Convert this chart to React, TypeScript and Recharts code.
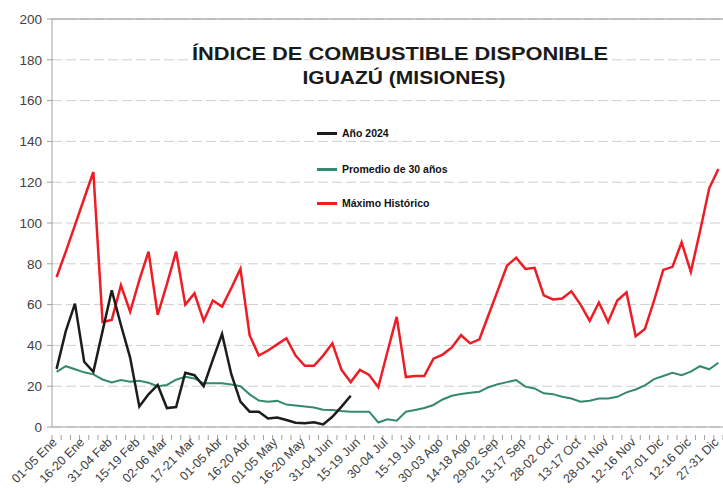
import React from "react";
import {
  ComposedChart,
  Line,
  XAxis,
  YAxis,
  CartesianGrid,
  ReferenceLine,
  Legend,
  Customized,
} from "recharts";

const pentads: string[] = [
  "01-05 Ene", "06-10 Ene", "11-15 Ene", "16-20 Ene", "21-25 Ene", "26-30 Ene",
  "31-04 Feb", "05-09 Feb", "10-14 Feb", "15-19 Feb", "20-24 Feb", "25-01 Mar",
  "02-06 Mar", "07-11 Mar", "12-16 Mar", "17-21 Mar", "22-26 Mar", "27-31 Mar",
  "01-05 Abr", "06-10 Abr", "11-15 Abr", "16-20 Abr", "21-25 Abr", "26-30 Abr",
  "01-05 May", "06-10 May", "11-15 May", "16-20 May", "21-25 May", "26-30 May",
  "31-04 Jun", "05-09 Jun", "10-14 Jun", "15-19 Jun", "20-24 Jun", "25-29 Jun",
  "30-04 Jul", "05-09 Jul", "10-14 Jul", "15-19 Jul", "20-24 Jul", "25-29 Jul",
  "30-03 Ago", "04-08 Ago", "09-13 Ago", "14-18 Ago", "19-23 Ago", "24-28 Ago",
  "29-02 Sep", "03-07 Sep", "08-12 Sep", "13-17 Sep", "18-22 Sep", "23-27 Sep",
  "28-02 Oct", "03-07 Oct", "08-12 Oct", "13-17 Oct", "18-22 Oct", "23-27 Oct",
  "28-01 Nov", "02-06 Nov", "07-11 Nov", "12-16 Nov", "17-21 Nov", "22-26 Nov",
  "27-01 Dic", "02-06 Dic", "07-11 Dic", "12-16 Dic", "17-21 Dic", "22-26 Dic",
  "27-31 Dic",
];

const anio2024: number[] = [
  28.5, 47, 60.5, 32, 27, 47, 67, 50, 34, 10,
  16, 20.6, 9.3, 9.8, 26.6, 25.4, 20, 33, 45.6, 26,
  12.4, 7.5, 7.5, 4.2, 4.6, 3.4, 2.1, 1.8, 2.3, 1.3,
  5, 10, 15.3,
];

const promedio30: number[] = [
  27, 29.8, 28.3, 26.8, 25.8, 23.3, 21.8, 23, 22.2, 22.7,
  21.7, 20, 20.6, 23.2, 24.6, 23.8, 21.4, 21.4, 21.4, 20.8,
  20, 16, 13, 12.4, 12.8, 11, 10.5, 10, 9.6, 8.5,
  8.3, 7.8, 7.5, 7.5, 7.5, 2.2, 3.8, 3.1, 7.5, 8.3,
  9.3, 10.8, 13.5, 15.3, 16.2, 16.8, 17.3, 19.5, 21, 22,
  23, 19.8, 18.9, 16.5, 16.1, 14.8, 14, 12.4, 12.9, 14,
  14, 14.8, 17, 18.4, 20.4, 23.5, 25, 26.6, 25.4, 27.1,
  29.8, 28.3, 31.5,
];

const maximoHistorico: number[] = [
  73.5, 86, 99, 112, 125, 51.5, 52.5, 69.5, 56.5, 72,
  86, 55, 70, 86, 60, 65.5, 52, 62, 59, 68,
  77.5, 45, 35, 37.5, 40.5, 43.5, 35, 30, 30, 35,
  41, 28, 22, 28, 25.5, 19.5, 37, 54, 24.5, 25,
  25, 33.5, 35.5, 39, 45, 41, 43, 55, 67, 79,
  83, 77.5, 78, 64.5, 62.5, 63, 66.5, 60, 52, 61,
  51.5, 62, 66, 44.5, 48, 62, 77, 78.5, 90.5, 76,
  96, 117, 126.5,
];

const yTicks: number[] = [0, 20, 40, 60, 80, 100, 120, 140, 160, 180, 200];

const seriesNames = {
  anio: "Año 2024",
  prom: "Promedio de 30 años",
  max: "Máximo Histórico",
};

const titleLines: string[] = [
  "ÍNDICE DE COMBUSTIBLE DISPONIBLE",
  "IGUAZÚ (MISIONES)",
];

const data = pentads.map((label, i) => ({
  label,
  anio: i < anio2024.length ? anio2024[i] : null,
  prom: promedio30[i],
  max: maximoHistorico[i],
}));

const FONT = '"Liberation Sans", Arial, sans-serif';
const W = 723;
const H = 488;
const PLOT_LEFT = 52;
const PLOT_RIGHT = 723;
const BW = (PLOT_RIGHT - PLOT_LEFT) / pentads.length;

const COLORS = {
  anio: "#1c1c1c",
  prom: "#338a6c",
  max: "#ee1c24",
};

const XTick = (props: any) => {
  const { x, y, payload, index } = props;
  const i = typeof index === "number" ? index : payload.index;
  const isLast = i === pentads.length - 1;
  return (
    <g transform={`translate(${x},${y})`}>
      <line x1={-BW / 2} y1={0} x2={-BW / 2} y2={5} stroke="#a0a0a0" />
      {isLast && <line x1={BW / 2} y1={0} x2={BW / 2} y2={5} stroke="#a0a0a0" />}
      {i % 3 === 0 && (
        <text
          x={0}
          y={0}
          transform="translate(1,8) rotate(-45)"
          textAnchor="end"
          fontFamily={FONT}
          fontSize={12.5}
          fill="#404040"
        >
          {payload.value}
        </text>
      )}
    </g>
  );
};

const Title = () => (
  <g>
    <text
      x={400}
      y={60}
      textAnchor="middle"
      fontFamily={FONT}
      fontWeight="bold"
      fontSize={19}
      fill="#1a1a1a"
      textLength={416}
      lengthAdjust="spacingAndGlyphs"
    >
      {titleLines[0]}
    </text>
    <text
      x={404}
      y={84}
      textAnchor="middle"
      fontFamily={FONT}
      fontWeight="bold"
      fontSize={19}
      fill="#1a1a1a"
      textLength={203}
      lengthAdjust="spacingAndGlyphs"
    >
      {titleLines[1]}
    </text>
  </g>
);

const LegendContent = () => {
  const items = [
    { name: seriesNames.anio, color: COLORS.anio },
    { name: seriesNames.prom, color: COLORS.prom },
    { name: seriesNames.max, color: COLORS.max },
  ];
  return (
    <div style={{ fontFamily: FONT }}>
      {items.map((it, k) => (
        <div
          key={it.name}
          style={{
            display: "flex",
            alignItems: "center",
            height: 14,
            marginBottom: k === 0 ? 22 : 20,
          }}
        >
          <div style={{ width: 20, height: 3, background: it.color, marginRight: 5 }} />
          <span style={{ fontSize: 10.5, fontWeight: "bold", color: "#111", whiteSpace: "nowrap" }}>
            {it.name}
          </span>
        </div>
      ))}
    </div>
  );
};

export default function App() {
  return (
    <div style={{ position: "absolute", left: 0, top: 0, width: W, height: H, background: "#fff", overflow: "hidden" }}>
      <ComposedChart
        width={W}
        height={H}
        data={data}
        margin={{ top: 19, right: W - PLOT_RIGHT, bottom: 0, left: 0 }}
      >
        <CartesianGrid
          vertical={false}
          stroke="#cfcfcf"
          strokeDasharray="10 4"
        />
        <XAxis
          dataKey="label"
          interval={0}
          height={61}
          padding={{ left: BW / 2, right: BW / 2 }}
          tickLine={false}
          axisLine={{ stroke: "#a0a0a0" }}
          tick={<XTick />}
        />
        <YAxis
          domain={[0, 200]}
          ticks={yTicks}
          width={PLOT_LEFT}
          tickSize={5}
          tickMargin={5}
          interval={0}
          axisLine={{ stroke: "#a0a0a0" }}
          tickLine={{ stroke: "#a0a0a0" }}
          tick={{ fontFamily: FONT, fontSize: 13.5, fill: "#404040" }}
        />
        <ReferenceLine y={200} stroke="#b0b0b0" strokeWidth={1.5} />
        <Line
          type="linear"
          dataKey="max"
          name={seriesNames.max}
          stroke={COLORS.max}
          strokeWidth={2.5}
          dot={false}
          isAnimationActive={false}
        />
        <Line
          type="linear"
          dataKey="prom"
          name={seriesNames.prom}
          stroke={COLORS.prom}
          strokeWidth={2}
          dot={false}
          isAnimationActive={false}
        />
        <Line
          type="linear"
          dataKey="anio"
          name={seriesNames.anio}
          stroke={COLORS.anio}
          strokeWidth={2.5}
          dot={false}
          connectNulls={false}
          isAnimationActive={false}
        />
        <Legend
          layout="horizontal"
          verticalAlign="middle"
          align="center"
          wrapperStyle={{ left: 317, top: 126, width: 220 }}
          content={<LegendContent />}
        />
        <Customized component={<Title />} />
      </ComposedChart>
    </div>
  );
}
